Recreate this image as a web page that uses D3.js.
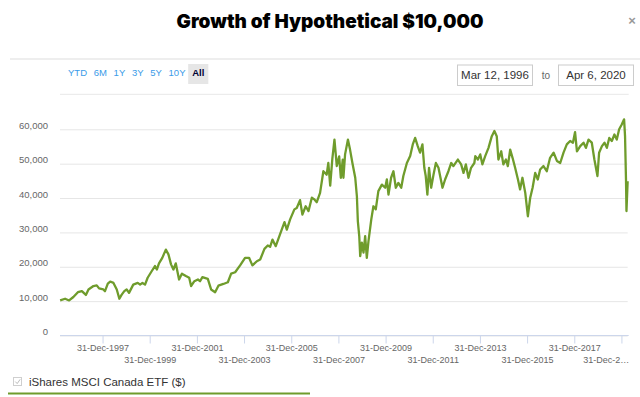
<!DOCTYPE html>
<html>
<head>
<meta charset="utf-8">
<script src="https://cdn.jsdelivr.net/npm/d3@7"></script>
<style>
  body { margin: 0; background: #fff; }
  svg { display: block; font-family: 'Liberation Sans', Arial, sans-serif; }
</style>
</head>
<body>
<div id="chart"></div>
<script>
// decimal years and fund value in $
const years = [
  1996.20, 1996.41, 1996.58, 1996.76, 1996.95, 1997.12, 1997.29, 1997.40, 1997.61, 1997.75,
  1997.85, 1998.03, 1998.10, 1998.22, 1998.32, 1998.46, 1998.60, 1998.71, 1998.81, 1998.92,
  1999.02, 1999.12, 1999.30, 1999.49, 1999.59, 1999.69, 1999.80, 1999.91, 2000.08, 2000.22,
  2000.30, 2000.39, 2000.53, 2000.68, 2000.79, 2000.90, 2001.00, 2001.10, 2001.24, 2001.36,
  2001.53, 2001.67, 2001.75, 2001.89, 2002.04, 2002.13, 2002.23, 2002.46, 2002.60, 2002.77,
  2002.91, 2003.12, 2003.31, 2003.45, 2003.62, 2003.83, 2004.04, 2004.21, 2004.35, 2004.54,
  2004.68, 2004.86, 2005.00, 2005.10, 2005.20, 2005.34, 2005.52, 2005.71, 2005.81, 2005.95,
  2006.13, 2006.23, 2006.37, 2006.47, 2006.61, 2006.73, 2006.87, 2006.98, 2007.08, 2007.22,
  2007.36, 2007.50, 2007.57, 2007.65, 2007.74, 2007.83, 2007.93, 2008.03, 2008.10, 2008.18,
  2008.21, 2008.28, 2008.40, 2008.49, 2008.59, 2008.71, 2008.78, 2008.82, 2008.88, 2008.92,
  2008.99, 2009.06, 2009.13, 2009.20, 2009.27, 2009.39, 2009.48, 2009.58, 2009.69, 2009.84,
  2009.98, 2010.05, 2010.12, 2010.23, 2010.33, 2010.43, 2010.54, 2010.66, 2010.75, 2010.90,
  2011.04, 2011.15, 2011.25, 2011.36, 2011.46, 2011.56, 2011.64, 2011.70, 2011.77, 2011.84,
  2011.93, 2012.03, 2012.13, 2012.24, 2012.31, 2012.41, 2012.52, 2012.66, 2012.78, 2012.87,
  2013.06, 2013.20, 2013.30, 2013.40, 2013.51, 2013.62, 2013.76, 2013.80, 2013.91, 2014.01,
  2014.10, 2014.22, 2014.36, 2014.50, 2014.61, 2014.71, 2014.78, 2014.90, 2014.99, 2015.10,
  2015.18, 2015.28, 2015.38, 2015.49, 2015.61, 2015.70, 2015.80, 2015.92, 2016.03, 2016.13,
  2016.23, 2016.34, 2016.45, 2016.55, 2016.69, 2016.83, 2016.97, 2017.12, 2017.26, 2017.40,
  2017.54, 2017.68, 2017.82, 2017.94, 2018.03, 2018.11, 2018.25, 2018.39, 2018.49, 2018.60,
  2018.74, 2018.85, 2018.98, 2019.05, 2019.17, 2019.28, 2019.38, 2019.48, 2019.59, 2019.70,
  2019.80, 2019.90, 2020.01, 2020.11, 2020.15, 2020.19, 2020.21, 2020.26
];
const values = [
  10200, 10700, 10200, 11200, 12600, 12900, 11800, 13400, 14400, 14600,
  13700, 13400, 12900, 15100, 15700, 15300, 13400, 10700, 11900, 12900,
  13400, 12400, 14800, 15300, 14800, 15300, 14800, 16800, 18700, 20200,
  19200, 21000, 22600, 25000, 23600, 20700, 19200, 21000, 16300, 18000,
  17300, 16800, 14400, 15800, 16300, 15800, 17000, 16500, 13400, 12600,
  14500, 15000, 15500, 18000, 18400, 20400, 22600, 22600, 20400, 21600,
  22100, 25200, 26200, 25800, 27900, 26000, 29400, 33000, 30800, 33800,
  36700, 37100, 39400, 35200, 37600, 36200, 40100, 39600, 38800, 41500,
  47800, 46800, 50200, 43600, 51400, 57000, 49300, 52100, 45900, 51200,
  45900, 52700, 57000, 54100, 50200, 45900, 40500, 33300, 28900, 23100,
  27000, 24100, 28900, 22600, 27400, 33800, 37600, 36700, 42000, 43900,
  43000, 45400, 41000, 45900, 47800, 43000, 44400, 43000, 46400, 50200,
  52200, 55600, 57500, 55100, 53200, 55600, 48800, 46400, 41000, 48800,
  43000, 46800, 50200, 48800, 46400, 43000, 45400, 47800, 50200, 49300,
  51200, 49800, 47300, 49800, 45900, 48800, 50200, 52200, 51200, 52700,
  49800, 52200, 54600, 58000, 59500, 58000, 51200, 53600, 49800, 51200,
  49300, 54100, 51700, 48800, 45400, 42500, 45900, 41500, 34700, 40100,
  43000, 47300, 45400, 48300, 49300, 47800, 51700, 53200, 50800, 50200,
  53200, 55600, 56600, 56100, 59200, 53600, 55100, 56100, 54600, 57000,
  56100, 51200, 46400, 53200, 55100, 56100, 54600, 57500, 56600, 58500,
  57000, 60000, 61400, 62900, 58000, 45400, 36200, 44900
];
const tickDates = [
  '1997-12-31', '1999-12-31', '2001-12-31', '2003-12-31', '2005-12-31', '2007-12-31',
  '2009-12-31', '2011-12-31', '2013-12-31', '2015-12-31', '2017-12-31', '2019-12-31'
];
const tickLabels = [
  '31-Dec-1997', '31-Dec-1999', '31-Dec-2001', '31-Dec-2003', '31-Dec-2005', '31-Dec-2007',
  '31-Dec-2009', '31-Dec-2011', '31-Dec-2013', '31-Dec-2015', '31-Dec-2017', '31-Dec-2…'
];
const yTicks = [0, 10000, 20000, 30000, 40000, 50000, 60000];
const ranges = ['YTD', '6M', '1Y', '3Y', '5Y', '10Y', 'All'];
const startLabel = 'Mar 12, 1996';
const endLabel = 'Apr 6, 2020';
const seriesName = 'iShares MSCI Canada ETF ($)';

const width = 640;
const height = 397;
const plot = { left: 60, right: 627.7, top: 129.3, bottom: 335.5 };
const lineColor = '#6f9c2c';

function yearToDate(t) {
  const y = Math.floor(t);
  const a = new Date(y, 0, 1), b = new Date(y + 1, 0, 1);
  return new Date(+a + (t - y) * (b - a));
}

const data = years.map((t, i) => ({ date: yearToDate(t), value: values[i] }));

const svg = d3.select('#chart').append('svg')
  .attr('width', width)
  .attr('height', height);

// header
svg.append('text')
  .attr('x', 330).attr('y', 28)
  .attr('text-anchor', 'middle')
  .style('font-family', "Inter, Roboto, 'Open Sans', sans-serif")
  .style('font-weight', 900)
  .style('font-size', '19px')
  .style('fill', '#000')
  .text('Growth of Hypothetical $10,000');

svg.append('text')
  .attr('x', 632).attr('y', 25)
  .attr('text-anchor', 'middle')
  .style('font-size', '13px')
  .style('font-weight', 'bold')
  .style('fill', '#999')
  .text('×');

svg.append('line')
  .attr('x1', 10).attr('x2', width).attr('y1', 59).attr('y2', 59)
  .attr('stroke', '#e8e8e8').attr('stroke-width', 1.5);
svg.append('line')
  .attr('x1', plot.left).attr('x2', plot.right + 1).attr('y1', 94.3).attr('y2', 94.3)
  .attr('stroke', '#e8e8e8').attr('stroke-width', 1);

// range selector
const btns = svg.append('g');
let bx = 68;
ranges.forEach((r, i) => {
  const last = i === ranges.length - 1;
  const t = btns.append('text')
    .attr('y', 75.5)
    .style('font-size', '9.5px')
    .style('font-weight', last ? 'bold' : 'normal')
    .style('fill', last ? '#000033' : '#3a9be8')
    .text(r);
  const w = t.node().getComputedTextLength();
  if (last) {
    btns.insert('rect', 'text')
      .attr('x', bx - 4).attr('y', 64).attr('width', w + 8).attr('height', 20)
      .attr('fill', '#e6e6e6');
  }
  t.attr('x', bx);
  bx += w + 6.7;
});

// date inputs
function dateBox(x0, x1, label) {
  svg.append('rect')
    .attr('x', x0).attr('y', 65).attr('width', x1 - x0).attr('height', 20.5)
    .attr('fill', '#fff').attr('stroke', '#cccccc');
  svg.append('text')
    .attr('x', (x0 + x1) / 2).attr('y', 79.3)
    .attr('text-anchor', 'middle')
    .style('font-size', '11.5px').style('fill', '#333')
    .text(label);
}
dateBox(457.5, 532.5, startLabel);
svg.append('text')
  .attr('x', 546).attr('y', 78.5).attr('text-anchor', 'middle')
  .style('font-size', '10px').style('fill', '#666').text('to');
dateBox(558.5, 633.5, endLabel);

// scales
const xScale = d3.scaleTime()
  .domain([new Date(1996, 2, 12), new Date(2020, 3, 6)])
  .range([plot.left, plot.right]);
const yScale = d3.scaleLinear()
  .domain([0, 60000])
  .range([plot.bottom, plot.top]);

// y axis with grid
const yAxis = d3.axisLeft(yScale)
  .tickValues(yTicks)
  .tickSize(-(plot.right - plot.left))
  .tickPadding(12)
  .tickFormat(d3.format(','));
const gy = svg.append('g')
  .attr('transform', `translate(${plot.left},0)`)
  .call(yAxis);
gy.select('.domain').remove();
gy.selectAll('.tick line').attr('stroke', '#e6e6e6');
gy.selectAll('.tick text')
  .attr('dy', '-0.1em')
  .style('font-size', '9.5px')
  .style('font-family', "'Liberation Sans', Arial, sans-serif")
  .style('fill', '#666');

// x axis
const tickTimes = tickDates.map(d => d3.timeParse('%Y-%m-%d')(d));
const xAxis = d3.axisBottom(xScale)
  .tickValues(tickTimes)
  .tickSize(8)
  .tickFormat((d, i) => tickLabels[i]);
const gx = svg.append('g')
  .attr('transform', `translate(0,${plot.bottom})`)
  .call(xAxis);
gx.select('.domain').remove();
gx.selectAll('.tick line').attr('stroke', '#ccd6eb');
gx.selectAll('.tick text')
  .attr('dy', null)
  .attr('y', (d, i) => i % 2 === 0 ? 15 : 27)
  .style('font-size', '9px')
  .style('font-family', "'Liberation Sans', Arial, sans-serif")
  .style('fill', '#666')
  .each(function(d, i) {
    if (i === tickTimes.length - 1) {
      d3.select(this)
        .attr('text-anchor', 'end')
        .attr('x', plot.right + 1 - xScale(d));
    }
  });
svg.append('line')
  .attr('x1', plot.left).attr('x2', plot.right + 1)
  .attr('y1', plot.bottom).attr('y2', plot.bottom)
  .attr('stroke', '#ccd6eb');

// series
const line = d3.line()
  .x(d => xScale(d.date))
  .y(d => yScale(d.value));
svg.append('path')
  .datum(data)
  .attr('d', line)
  .attr('fill', 'none')
  .attr('stroke', lineColor)
  .attr('stroke-width', 2.3)
  .attr('stroke-linejoin', 'round');

// legend
svg.append('rect')
  .attr('x', 13.5).attr('y', 377.5).attr('width', 8).attr('height', 8)
  .attr('fill', '#fff').attr('stroke', '#cfcfcf');
svg.append('path')
  .attr('d', 'M15.3,381.6 L17.2,383.6 L20.2,379.3')
  .attr('fill', 'none').attr('stroke', '#bdbdbd').attr('stroke-width', 1);
svg.append('text')
  .attr('x', 29).attr('y', 385.8)
  .style('font-size', '11.5px').style('fill', '#333')
  .text(seriesName);
svg.append('line')
  .attr('x1', 8).attr('x2', 310).attr('y1', 393.5).attr('y2', 393.5)
  .attr('stroke', lineColor).attr('stroke-width', 2);
</script>
</body>
</html>
